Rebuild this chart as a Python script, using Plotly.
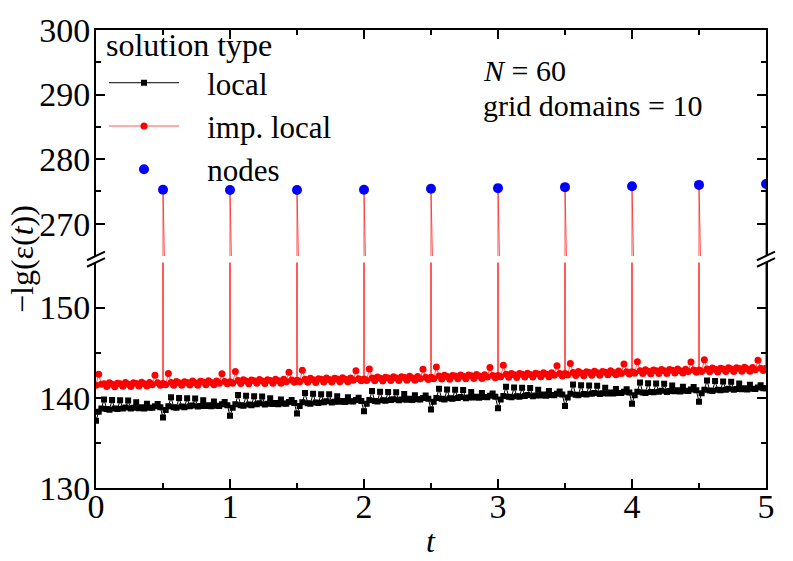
import numpy as np
import plotly.graph_objects as go

# time grid (step 0.02) shared by both solution curves
t_grid = np.round(np.linspace(0, 5, 251), 2)

# -lg(eps) for the "local" solution, segment by segment (0.5 wide)
local_vals = [
    137.45, 138.45, 138.80, 139.80, 138.75, 138.68, 139.75, 138.82, 138.75, 139.72, 138.82, 138.92, 139.70,
    138.80, 138.88, 139.50, 138.85, 138.95, 138.82, 139.35, 138.90, 138.88, 139.05, 139.30, 138.95,
    137.80, 138.65, 139.05, 140.05, 138.95, 138.90, 139.98, 139.02, 138.95, 139.95, 139.05, 139.15, 139.92,
    139.02, 139.10, 139.72, 139.08, 139.18, 139.05, 139.58, 139.12, 139.10, 139.28, 139.52, 139.18,
    138.00, 138.88, 139.28, 140.30, 139.18, 139.12, 140.22, 139.26, 139.18, 140.18, 139.28, 139.38, 140.15,
    139.25, 139.34, 139.95, 139.32, 139.42, 139.28, 139.82, 139.36, 139.34, 139.52, 139.76, 139.42,
    138.25, 139.10, 139.50, 140.52, 139.40, 139.35, 140.45, 139.48, 139.42, 140.40, 139.50, 139.60, 140.38,
    139.48, 139.56, 140.18, 139.55, 139.65, 139.52, 140.05, 139.60, 139.58, 139.75, 140.00, 139.65,
    138.50, 139.34, 139.74, 140.76, 139.64, 139.58, 140.68, 139.72, 139.66, 140.64, 139.74, 139.84, 140.62,
    139.72, 139.80, 140.42, 139.78, 139.88, 139.76, 140.28, 139.84, 139.82, 139.98, 140.24, 139.88,
    138.70, 139.56, 139.97, 141.00, 139.88, 139.82, 140.92, 139.95, 139.90, 140.88, 139.98, 140.08, 140.85,
    139.95, 140.04, 140.65, 140.02, 140.12, 140.00, 140.52, 140.08, 140.05, 140.22, 140.48, 140.12,
    138.85, 139.80, 140.20, 141.22, 140.10, 140.05, 141.15, 140.18, 140.12, 141.12, 140.20, 140.30, 141.08,
    140.18, 140.26, 140.88, 140.25, 140.35, 140.22, 140.75, 140.30, 140.28, 140.45, 140.70, 140.35,
    139.10, 140.04, 140.44, 141.46, 140.34, 140.28, 141.38, 140.42, 140.36, 141.35, 140.44, 140.54, 141.32,
    140.42, 140.50, 141.12, 140.48, 140.58, 140.46, 140.98, 140.54, 140.52, 140.68, 140.94, 140.58,
    139.35, 140.27, 140.67, 141.70, 140.58, 140.52, 141.62, 140.65, 140.60, 141.58, 140.68, 140.78, 141.55,
    140.65, 140.74, 141.35, 140.72, 140.82, 140.70, 141.22, 140.78, 140.75, 140.92, 141.18, 140.82,
    139.55, 140.50, 140.90, 141.92, 140.80, 140.75, 141.85, 140.88, 140.82, 141.80, 140.90, 141.00, 141.78,
    140.88, 140.96, 141.58, 140.95, 141.05, 140.92, 141.45, 141.00, 140.98, 141.15, 141.40, 141.05,
    141.05,
]

# -lg(eps) for the "imp. local" solution (band values; the node spikes are in node_vals)
imp_vals = [
    141.40, 142.60, 141.50, 141.55, 141.25, 141.65, 141.50, 141.22, 141.62, 141.55, 141.27, 141.68, 141.50,
    141.25, 141.66, 141.58, 141.30, 141.72, 141.55, 141.30, 141.70, 141.45, 142.50, 141.65, 141.40,
    141.55, 141.45, 142.70, 141.70, 141.40, 141.80, 141.65, 141.38, 141.78, 141.70, 141.42, 141.85, 141.66,
    141.40, 141.82, 141.75, 141.45, 141.88, 141.70, 141.45, 141.86, 141.60, 142.65, 141.80, 141.55,
    141.75, 141.62, 142.90, 141.90, 141.58, 142.00, 141.85, 141.55, 141.98, 141.88, 141.60, 142.02, 141.86,
    141.58, 142.00, 141.92, 141.62, 142.05, 141.88, 141.62, 142.04, 141.78, 142.82, 141.98, 141.72,
    141.90, 141.78, 143.05, 142.05, 141.72, 142.15, 142.00, 141.70, 142.12, 142.05, 141.75, 142.18, 142.02,
    141.74, 142.16, 142.08, 141.78, 142.22, 142.04, 141.78, 142.20, 141.95, 142.98, 142.12, 141.88,
    142.05, 141.92, 143.20, 142.20, 141.88, 142.30, 142.15, 141.85, 142.28, 142.20, 141.90, 142.33, 142.18,
    141.90, 142.32, 142.24, 141.94, 142.38, 142.20, 141.94, 142.36, 142.10, 143.15, 142.28, 142.02,
    142.25, 142.12, 143.40, 142.40, 142.08, 142.50, 142.35, 142.05, 142.48, 142.40, 142.10, 142.53, 142.38,
    142.10, 142.52, 142.44, 142.14, 142.58, 142.40, 142.14, 142.56, 142.30, 143.35, 142.48, 142.22,
    142.45, 142.32, 143.60, 142.60, 142.28, 142.70, 142.55, 142.25, 142.68, 142.60, 142.30, 142.73, 142.58,
    142.30, 142.72, 142.64, 142.34, 142.78, 142.60, 142.34, 142.76, 142.50, 143.55, 142.68, 142.42,
    142.65, 142.52, 143.80, 142.80, 142.48, 142.90, 142.75, 142.45, 142.88, 142.80, 142.50, 142.93, 142.78,
    142.50, 142.92, 142.84, 142.54, 142.98, 142.80, 142.54, 142.96, 142.70, 143.75, 142.88, 142.62,
    142.85, 142.72, 144.00, 143.00, 142.68, 143.10, 142.95, 142.65, 143.08, 143.00, 142.70, 143.13, 142.98,
    142.70, 143.12, 143.04, 142.74, 143.18, 143.00, 142.74, 143.16, 142.90, 143.95, 143.08, 142.82,
    143.05, 142.92, 144.20, 143.20, 142.88, 143.30, 143.15, 142.85, 143.28, 143.20, 142.90, 143.33, 143.18,
    142.90, 143.32, 143.24, 142.94, 143.38, 143.20, 142.94, 143.36, 143.10, 144.15, 143.28, 143.02,
    143.25,
]

# grid-domain nodes
node_t = [0.5, 1.0, 1.5, 2.0, 2.5, 3.0, 3.5, 4.0, 4.5, 5.0]
node_vals = [275.25, 275.2, 275.2, 275.25, 275.4, 275.5, 275.65, 275.8, 276.0, 276.15]

# imp. local curve: band points with the spike up to the node value at every node
peak = {round(t, 2): v for t, v in zip(node_t, node_vals)}
imp_x, imp_y = [], []
for t, v in zip(t_grid, imp_vals):
    key = round(float(t), 2)
    if key in peak:
        imp_x += [t - 0.004, t, t + 0.004]
        imp_y += [v, peak[key], v]
    else:
        imp_x.append(t)
        imp_y.append(v)

FONT = "Liberation Serif, Times New Roman, DejaVu Serif, serif"
RED_LINE = "rgba(255,0,0,0.65)"
NB = "\u00a0\u00a0\u00a0"   # push legend labels right of the long sample lines

fig = go.Figure()
fig.add_trace(go.Scatter(
    x=t_grid, y=local_vals, xaxis="x", yaxis="y", mode="lines+markers", name=NB + "local",
    legendgroup="a", line=dict(color="black", width=1),
    marker=dict(symbol="square", size=6, color="black"),
))
fig.add_trace(go.Scatter(
    x=imp_x, y=imp_y, xaxis="x", yaxis="y", mode="lines+markers", name=NB + "imp. local",
    legendgroup="b", line=dict(color=RED_LINE, width=1),
    marker=dict(symbol="circle", size=7, color="red"),
))
fig.add_trace(go.Scatter(
    x=imp_x, y=imp_y, xaxis="x2", yaxis="y2", mode="lines+markers", name="imp. local",
    legendgroup="b", showlegend=False, line=dict(color=RED_LINE, width=1),
    marker=dict(symbol="circle", size=7, color="red"),
))
fig.add_trace(go.Scatter(
    x=node_t, y=node_vals, xaxis="x2", yaxis="y2", mode="markers", name=NB + "nodes",
    legendgroup="c", marker=dict(symbol="circle", size=10, color="#0000ff"),
))

# plot area in pixels
W, H = 793, 561
L, R, T, B = 96, 27, 16, 73
pw, ph = W - L - R, H - T - B
low_top = 255.5   # pixel y of top of lower panel
up_bot = 248.8    # pixel y of bottom of upper panel


def py(ypix):
    return (H - B - ypix) / ph


def px(xpix):
    return (xpix - L) / pw


axis_common = dict(
    showline=True, linewidth=2, linecolor="black", ticks="inside", ticklen=9, tickwidth=1.6,
    tickcolor="black", showgrid=False, zeroline=False, tickfont=dict(size=34),
    ticklabeloverflow="allow",
)
minor_y = dict(dtick=5, ticks="inside", ticklen=5, tickwidth=1.6, tickcolor="black", showgrid=False)
minor_x = dict(dtick=0.5, ticks="inside", ticklen=5, tickwidth=1.6, tickcolor="black", showgrid=False)

fig.update_layout(
    width=W, height=H,
    margin=dict(l=L, r=R, t=T, b=B),
    paper_bgcolor="white", plot_bgcolor="white",
    font=dict(family=FONT, size=30, color="black"),
    xaxis=dict(domain=[0, 1], anchor="y", range=[0, 5], dtick=1, mirror=False, minor=minor_x,
               ticklabelstandoff=-13, **axis_common),
    xaxis2=dict(domain=[0, 1], anchor="y2", range=[0, 5], dtick=1, side="top", matches="x",
                showticklabels=False, minor=minor_x, **axis_common),
    yaxis=dict(domain=[0, py(low_top)], anchor="x", range=[130, 155], dtick=10, tick0=130,
               mirror="allticks", minor=minor_y, ticklabelstandoff=-3, **axis_common),
    yaxis2=dict(domain=[py(up_bot), 1], anchor="x2", range=[265, 300], dtick=10, tick0=270,
                mirror="allticks", minor=minor_y, ticklabelstandoff=-3, **axis_common),
    legend=dict(
        x=px(104), y=py(0), xanchor="left", yanchor="top", bgcolor="rgba(0,0,0,0)",
        title=dict(text="solution type", font=dict(size=32)), font=dict(size=31),
        traceorder="grouped", tracegroupgap=0, itemwidth=70,
    ),
    showlegend=True,
)

# axis break marks on both sides
shapes = []
for xp in (L, W - R):
    for yp in (up_bot, low_top):
        shapes.append(dict(type="line", xref="paper", yref="paper",
                           x0=px(xp - 9), y0=py(yp + 4.5), x1=px(xp + 9), y1=py(yp - 4.5),
                           line=dict(color="black", width=2)))
fig.update_layout(shapes=shapes)

fig.add_annotation(xref="paper", yref="paper", x=px(481), y=py(58), xanchor="left", yanchor="middle",
                   text="<i>N</i> = 60", showarrow=False, font=dict(size=30))
fig.add_annotation(xref="paper", yref="paper", x=px(481), y=py(94), xanchor="left", yanchor="middle",
                   text="grid domains = 10", showarrow=False, font=dict(size=30))
fig.add_annotation(xref="paper", yref="paper", x=px(22), y=py(252), xanchor="center", yanchor="middle",
                   text="\u2212lg(\u03b5(<i>t</i>))", textangle=-90, showarrow=False, font=dict(size=32))
fig.add_annotation(xref="paper", yref="paper", x=0.5, y=py(543), xanchor="center", yanchor="middle",
                   text="<i>t</i>", showarrow=False, font=dict(size=32))

# the page body has a default 8px margin; drop it so the figure sits at the window corner
fig.write_html("out.html", config={"displayModeBar": False},
               post_script="document.body.style.margin='0';")
